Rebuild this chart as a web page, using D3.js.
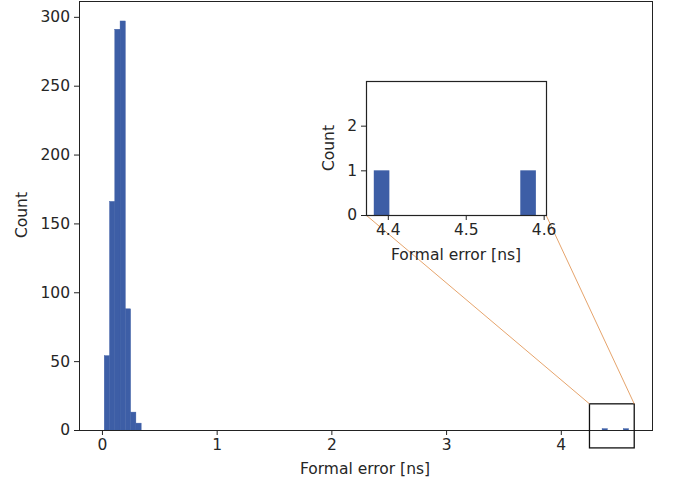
<!DOCTYPE html>
<html>
<head>
<meta charset="utf-8">
<script src="https://cdn.jsdelivr.net/npm/d3@7"></script>
<style>
  body { margin: 0; background: #fff; }
  svg text { font-family: "DejaVu Sans", sans-serif; fill: #262626; }
  .axis path, .axis line { stroke: #222; }
</style>
</head>
<body>
<div id="chart"></div>
<script>
// histogram data
var binLeft = [0.02, 0.066, 0.112, 0.158, 0.204, 0.25, 0.296, 4.36, 4.545];
var binWidth = 0.046;
var counts = [54, 166, 291, 297, 88, 13, 5, 1, 1];

// inset (zoomed) histogram
var insetBinLeft = [4.382, 4.570];
var insetBinWidth = 0.02;
var insetCounts = [1, 1];

var xTicks = [0, 1, 2, 3, 4];
var yTicks = [0, 50, 100, 150, 200, 250, 300];
var insetXTicks = [4.4, 4.5, 4.6];
var insetYTicks = [0, 1, 2];

// zoomed region shown in main axes
var zoomBox = { x0: 4.25, x1: 4.64, y0: -13, y1: 19 };

var svgWidth = 673, svgHeight = 484;
var barColor = "#3d5ea6";
var lineColor = "#e6a46c";
var fontSize = "15.5px";

var svg = d3.select("#chart").append("svg")
  .attr("width", svgWidth)
  .attr("height", svgHeight);

// main scales
var x = d3.scaleLinear().domain([-0.2, 4.795]).range([79, 652]);
var y = d3.scaleLinear().domain([0, 311.5]).range([430, 1]);

var data = binLeft.map(function(d, i) { return { left: d, count: counts[i] }; });

svg.append("g").selectAll("rect")
  .data(data)
  .enter()
  .append("rect")
  .attr("x", d => x(d.left))
  .attr("width", d => x(d.left + binWidth) - x(d.left))
  .attr("y", d => y(d.count))
  .attr("height", d => y(0) - y(d.count))
  .attr("fill", barColor)
  .attr("stroke", barColor)
  .attr("stroke-width", 0.4);

// axes
svg.append("g")
  .attr("class", "axis")
  .attr("transform", "translate(0," + y.range()[0] + ")")
  .call(d3.axisBottom(x).tickValues(xTicks).tickSize(5).tickPadding(4).tickFormat(d3.format("d")))
  .call(g => g.select(".domain").remove())
  .selectAll("text").style("font-size", fontSize);

svg.append("g")
  .attr("class", "axis")
  .attr("transform", "translate(" + x.range()[0] + ",0)")
  .call(d3.axisLeft(y).tickValues(yTicks).tickSize(5).tickPadding(4))
  .call(g => g.select(".domain").remove())
  .selectAll("text").style("font-size", fontSize);

// frame
svg.append("rect")
  .attr("x", 79.5).attr("y", 1.5)
  .attr("width", 652 - 79).attr("height", 430 - 1)
  .attr("fill", "none").attr("stroke", "#222").attr("stroke-width", 1);

svg.append("text")
  .attr("x", (79 + 652) / 2 - 0.5).attr("y", 474)
  .attr("text-anchor", "middle").style("font-size", fontSize)
  .text("Formal error [ns]");

svg.append("text")
  .attr("transform", "translate(27," + 215 + ") rotate(-90)")
  .attr("text-anchor", "middle").style("font-size", fontSize)
  .text("Count");

// inset scales
var ix = d3.scaleLinear().domain([4.372, 4.603]).range([366, 546]);
var iy = d3.scaleLinear().domain([0, 3]).range([215, 81]);

// zoom box + connectors
svg.append("rect")
  .attr("x", x(zoomBox.x0)).attr("y", y(zoomBox.y1))
  .attr("width", x(zoomBox.x1) - x(zoomBox.x0))
  .attr("height", y(zoomBox.y0) - y(zoomBox.y1))
  .attr("fill", "none").attr("stroke", "#111").attr("stroke-width", 1.3);

svg.append("line")
  .attr("x1", x(zoomBox.x0)).attr("y1", y(zoomBox.y1))
  .attr("x2", ix.range()[0]).attr("y2", iy.range()[0])
  .attr("stroke", lineColor).attr("stroke-width", 1);

svg.append("line")
  .attr("x1", x(zoomBox.x1)).attr("y1", y(zoomBox.y1))
  .attr("x2", ix.range()[1]).attr("y2", iy.range()[0])
  .attr("stroke", lineColor).attr("stroke-width", 1);

// inset
var inset = svg.append("g");
inset.append("rect")
  .attr("x", ix.range()[0]).attr("y", iy.range()[1])
  .attr("width", ix.range()[1] - ix.range()[0])
  .attr("height", iy.range()[0] - iy.range()[1])
  .attr("fill", "#fff");

var insetData = insetBinLeft.map(function(d, i) { return { left: d, count: insetCounts[i] }; });

inset.selectAll("rect.bar")
  .data(insetData)
  .enter()
  .append("rect")
  .attr("class", "bar")
  .attr("x", d => ix(d.left))
  .attr("width", d => ix(d.left + insetBinWidth) - ix(d.left))
  .attr("y", d => iy(d.count))
  .attr("height", d => iy(0) - iy(d.count))
  .attr("fill", barColor);

inset.append("g")
  .attr("class", "axis")
  .attr("transform", "translate(0," + iy.range()[0] + ")")
  .call(d3.axisBottom(ix).tickValues(insetXTicks).tickSize(5).tickPadding(4).tickFormat(d3.format(".1f")))
  .call(g => g.select(".domain").remove())
  .selectAll("text").style("font-size", fontSize);

inset.append("g")
  .attr("class", "axis")
  .attr("transform", "translate(" + ix.range()[0] + ",0)")
  .call(d3.axisLeft(iy).tickValues(insetYTicks).tickSize(5).tickPadding(4).tickFormat(d3.format("d")))
  .call(g => g.select(".domain").remove())
  .selectAll("text").style("font-size", fontSize);

inset.append("rect")
  .attr("x", ix.range()[0] + 0.5).attr("y", iy.range()[1] + 0.5)
  .attr("width", ix.range()[1] - ix.range()[0])
  .attr("height", iy.range()[0] - iy.range()[1])
  .attr("fill", "none").attr("stroke", "#222").attr("stroke-width", 1.2);

inset.append("text")
  .attr("x", (ix.range()[0] + ix.range()[1]) / 2).attr("y", 260)
  .attr("text-anchor", "middle").style("font-size", fontSize)
  .text("Formal error [ns]");

inset.append("text")
  .attr("transform", "translate(334," + 148 + ") rotate(-90)")
  .attr("text-anchor", "middle").style("font-size", fontSize)
  .text("Count");
</script>
</body>
</html>
